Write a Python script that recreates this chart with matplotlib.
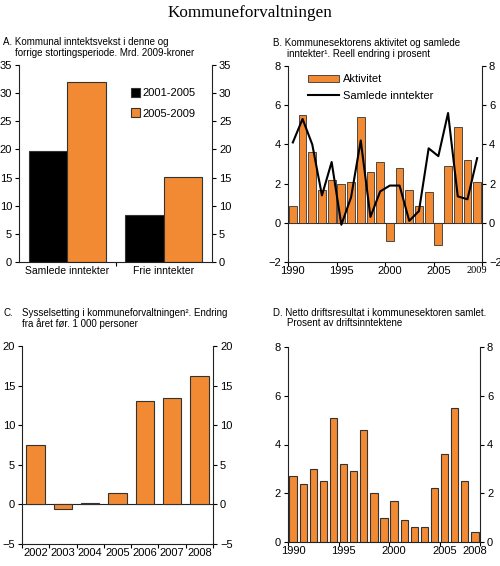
import matplotlib
matplotlib.use("Agg")
import matplotlib.pyplot as plt
import numpy as np

plt.rcParams['font.family'] = ['Liberation Sans', 'DejaVu Sans']

ORANGE = '#F28A33'
EDGE = '#333333'

# Panel A
a_categories = ['Samlede inntekter', 'Frie inntekter']
a_2001_2005 = [19.7, 8.3]
a_2005_2009 = [32.0, 15.1]

# Panel B
b_years = list(range(1990, 2010))
b_aktivitet = [0.85, 5.5, 3.6, 1.65, 2.2, 2.0, 2.1, 5.4, 2.6, 3.1,
               -0.95, 2.8, 1.65, 0.85, 1.55, -1.15, 2.9, 4.9, 3.2, 2.1]
b_samlede = [4.1, 5.3, 4.0, 1.4, 3.1, -0.1, 1.3, 4.2, 0.3, 1.6,
             1.9, 1.9, 0.1, 0.6, 3.8, 3.4, 5.6, 1.35, 1.2, 3.3]
b_ticklabels = ['1990', '1995', '2000', '2005', '2009']

# Panel C
c_years = ['2002', '2003', '2004', '2005', '2006', '2007', '2008']
c_values = [7.5, -0.6, 0.2, 1.5, 13.1, 13.4, 16.2]

# Panel D
d_years = list(range(1990, 2009))
d_values = [2.7, 2.4, 3.0, 2.5, 5.1, 3.2, 2.9, 4.6, 2.0, 1.0,
            1.7, 0.9, 0.6, 0.6, 2.2, 3.6, 5.5, 2.5, 0.4]
d_ticklabels = ['1990', '1995', '2000', '2005', '2008']

FS = 8      # tick labels
TFS = 7     # panel titles
LFS = 8     # legends

fig = plt.figure(figsize=(5.0, 5.66), dpi=100)
W, H = 500, 566

def add_ax(l, r, t, b):
    return fig.add_axes([l / W, 1 - b / H, (r - l) / W, (b - t) / H])

def style(ax):
    ax.tick_params(axis='y', which='both', left=True, right=True,
                   labelleft=True, labelright=True, direction='out',
                   length=3, width=0.8, labelsize=FS, pad=2)
    ax.tick_params(axis='x', which='both', direction='out', length=3,
                   width=0.8, labelsize=FS, pad=3)
    for s in ax.spines.values():
        s.set_linewidth(0.8)
        s.set_color('#222222')
    ax.spines['top'].set_visible(False)

fig.text(0.5, 1 - 13 / H, 'Kommuneforvaltningen', ha='center', va='center',
         fontsize=12.3, family='Liberation Serif')

# ---- Panel A ----
axA = add_ax(19, 212, 65, 262)
x = np.arange(len(a_categories))
axA.bar(x - 0.2, a_2001_2005, width=0.4, color='black', edgecolor=EDGE,
        linewidth=0.8, label='2001-2005')
axA.bar(x + 0.2, a_2005_2009, width=0.4, color=ORANGE, edgecolor=EDGE,
        linewidth=0.8, label='2005-2009')
axA.set_xlim(-0.5, 1.5)
axA.set_ylim(0, 35)
axA.set_yticks(np.arange(0, 36, 5))
axA.set_xticks(x)
axA.set_xticklabels(a_categories)
axA.set_xticks([0.5], minor=True)
style(axA)
axA.tick_params(axis='x', which='major', length=0, labelsize=7.5)
axA.tick_params(axis='x', which='minor', length=3)
axA.legend(loc='upper left', bbox_to_anchor=(0.55, 0.91), frameon=False,
           fontsize=LFS, handlelength=0.8, handleheight=0.8,
           handletextpad=0.3, labelspacing=0.9, borderpad=0)
fig.text(3 / W, 1 - 42 / H, 'A. Kommunal inntektsvekst i denne og',
         fontsize=TFS, va='center')
fig.text(15 / W, 1 - 52.5 / H, 'forrige stortingsperiode. Mrd. 2009-kroner',
         fontsize=TFS, va='center')

# ---- Panel B ----
axB = add_ax(288, 482, 66, 262)
xb = np.arange(len(b_years))
bars = axB.bar(xb, b_aktivitet, width=0.8, color=ORANGE, edgecolor=EDGE,
               linewidth=0.6, label='Aktivitet', zorder=2)
line, = axB.plot(xb, b_samlede, color='black', linewidth=1.5,
                 label='Samlede inntekter', zorder=3)
axB.axhline(0, color='#222222', linewidth=0.8, zorder=1)
axB.set_xlim(-0.5, len(b_years) - 0.5)
axB.set_ylim(-2, 8)
axB.set_yticks(np.arange(-2, 9, 2))
lab_idx = [b_years.index(int(s)) for s in b_ticklabels]
axB.set_xticks(lab_idx)
axB.set_xticklabels(b_ticklabels)
axB.set_xticks([-0.5, 4.5, 9.5, 14.5, 19.5], minor=True)
style(axB)
axB.tick_params(axis='x', which='major', length=0)
axB.tick_params(axis='x', which='minor', length=3)
lbls = axB.get_xticklabels()
lbls[-1].set_fontfamily('Liberation Serif')
lbls[-1].set_fontsize(7.5)
axB.legend([bars, line], ['Aktivitet', 'Samlede inntekter'],
           loc='upper left', bbox_to_anchor=(0.075, 0.985), frameon=False,
           fontsize=LFS, handlelength=2.8, handleheight=0.7,
           handletextpad=0.3, labelspacing=0.6, borderpad=0)
fig.text(273 / W, 1 - 43 / H, 'B. Kommunesektorens aktivitet og samlede',
         fontsize=TFS, va='center')
fig.text(287 / W, 1 - 54 / H, 'inntekter\u00b9. Reell endring i prosent',
         fontsize=TFS, va='center')

# ---- Panel C ----
axC = add_ax(22, 213, 346, 544)
xc = np.arange(len(c_years))
axC.bar(xc, c_values, width=0.68, color=ORANGE, edgecolor=EDGE,
        linewidth=0.8, zorder=2)
axC.axhline(0, color='#222222', linewidth=0.8, zorder=1)
axC.set_xlim(-0.5, len(c_years) - 0.5)
axC.set_ylim(-5, 20)
axC.set_yticks(np.arange(-5, 21, 5))
axC.set_xticks(xc)
axC.set_xticklabels(c_years)
axC.set_xticks(np.arange(-0.5, len(c_years), 1.0), minor=True)
style(axC)
axC.tick_params(axis='x', which='major', length=0)
axC.tick_params(axis='x', which='minor', length=3)
fig.text(3 / W, 1 - 313 / H, 'C.', fontsize=TFS, va='center')
fig.text(22 / W, 1 - 313 / H, 'Sysselsetting i kommuneforvaltningen\u00b2. Endring',
         fontsize=TFS, va='center')
fig.text(22 / W, 1 - 323.5 / H, 'fra året før. 1 000 personer',
         fontsize=TFS, va='center')

# ---- Panel D ----
axD = add_ax(288, 480, 347, 542)
xd = np.arange(len(d_years))
axD.bar(xd, d_values, width=0.72, color=ORANGE, edgecolor=EDGE,
        linewidth=0.8, zorder=2)
axD.set_xlim(-0.5, len(d_years) - 0.5)
axD.set_ylim(0, 8)
axD.set_yticks(np.arange(0, 9, 2))
lab_idx_d = [d_years.index(int(s)) for s in d_ticklabels]
axD.set_xticks(lab_idx_d)
axD.set_xticklabels(d_ticklabels)
axD.set_xticks([-0.5, 4.5, 9.5, 14.5, 18.5], minor=True)
style(axD)
axD.tick_params(axis='x', which='major', length=0)
axD.tick_params(axis='x', which='minor', length=3)
fig.text(273 / W, 1 - 313 / H, 'D. Netto driftsresultat i kommunesektoren samlet.',
         fontsize=TFS, va='center')
fig.text(287 / W, 1 - 323.5 / H, 'Prosent av driftsinntektene',
         fontsize=TFS, va='center')

fig.savefig('out.png', dpi=100)
